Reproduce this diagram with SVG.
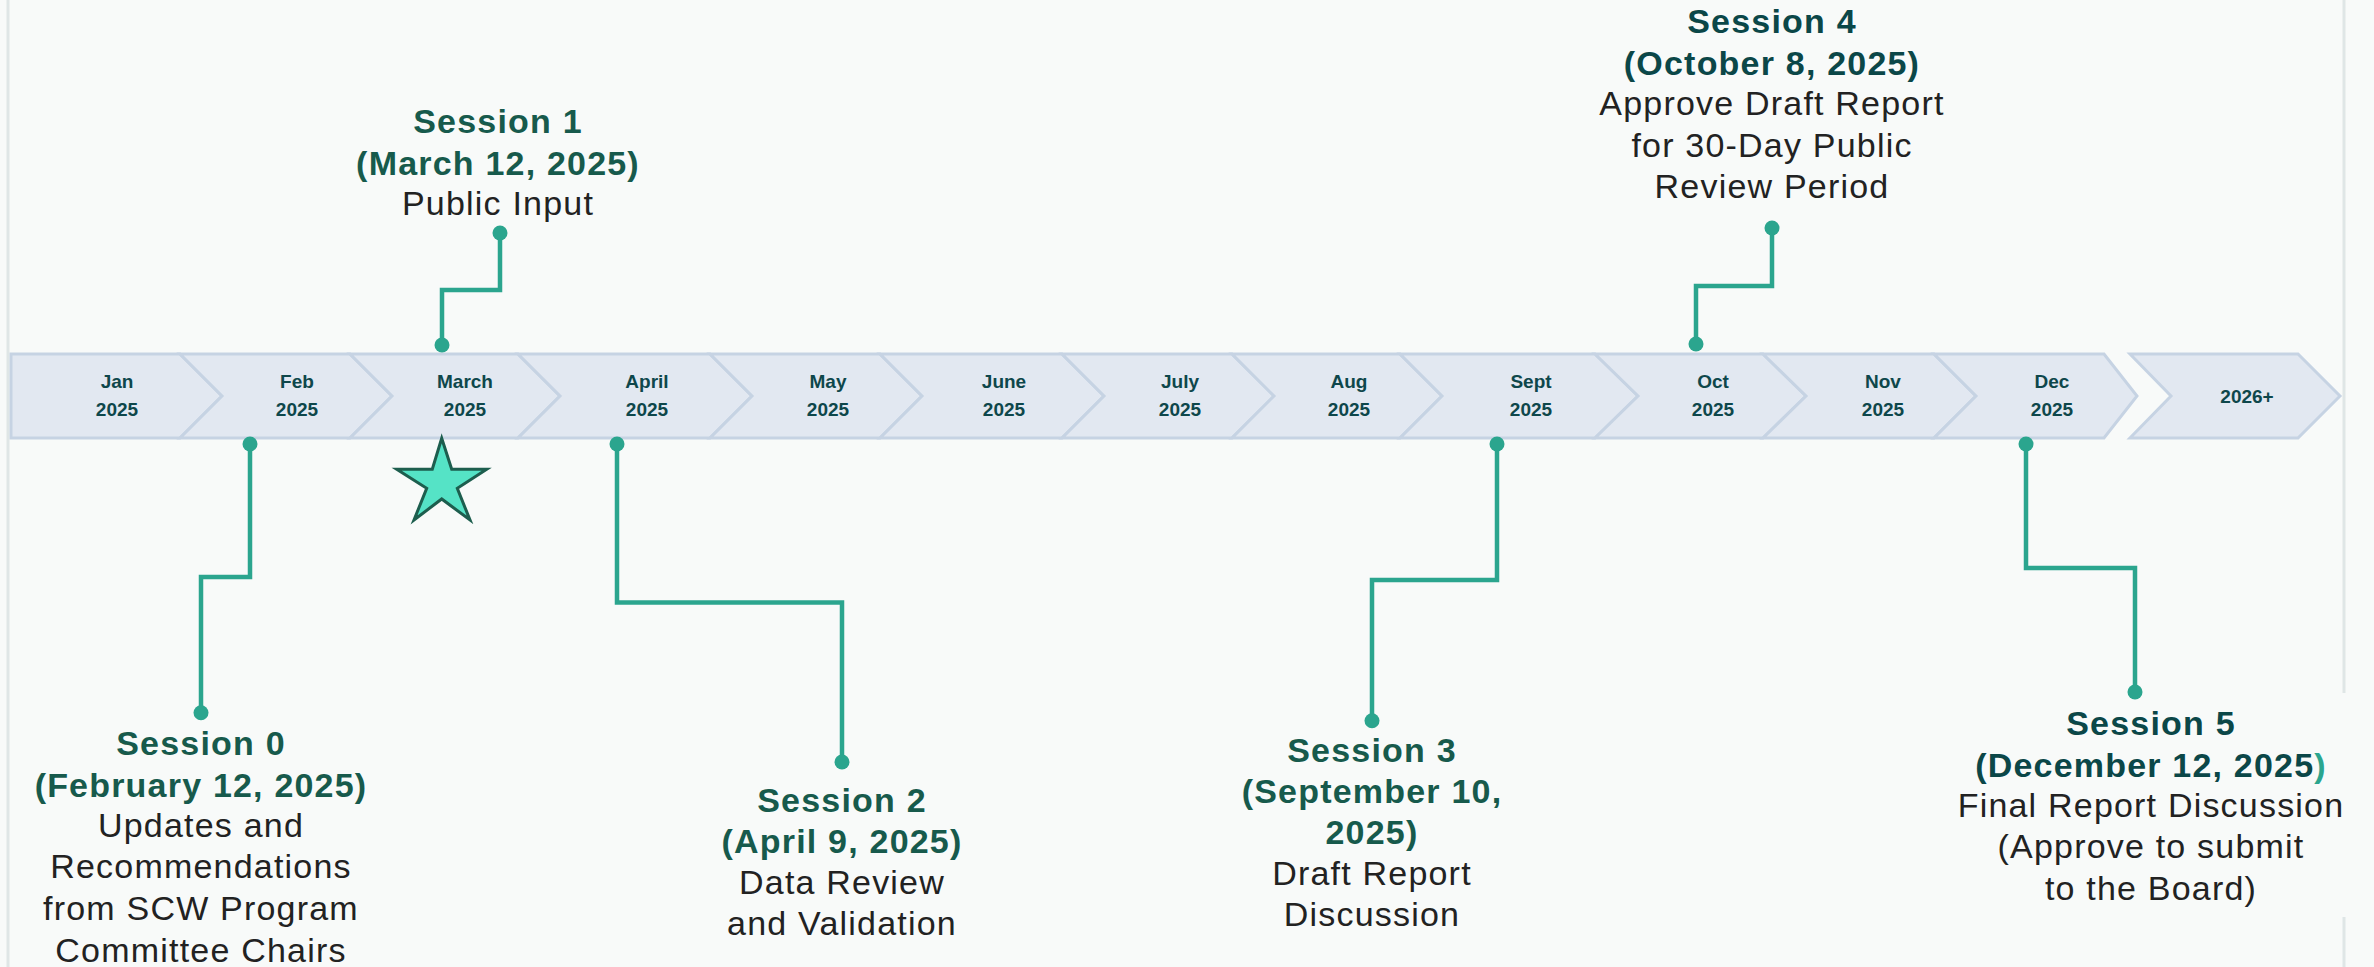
<svg xmlns="http://www.w3.org/2000/svg" width="2374" height="967" viewBox="0 0 2374 967">
<style>
.bg{fill:#f8faf9}
.border{stroke:#dfe6e6;stroke-width:3;fill:none}
.chev{fill:#e2e8f1;stroke:#c6d3e3;stroke-width:3;stroke-linejoin:miter}
.mon{font-family:"Liberation Sans",Arial,sans-serif;font-weight:bold;font-size:19px;fill:#0e474b;text-anchor:middle}
.conn{fill:none;stroke:#2ba58e;stroke-width:4.5}
.dot{fill:#2ba58e}
.t{font-family:"Liberation Sans",Arial,sans-serif;font-size:34px;text-anchor:middle;letter-spacing:1.2px}
.h{font-weight:bold;fill:#175a4c}
.h2{font-weight:bold;fill:#0b4748}
.d{fill:#222222}
.star{fill:#55e3c6;stroke:#1d5e4e;stroke-width:3;stroke-linejoin:miter}
</style>
<rect class="bg" x="0" y="0" width="2374" height="967"/>
<line class="border" x1="8" y1="0" x2="8" y2="967"/>
<line class="border" x1="2344" y1="0" x2="2344" y2="693"/>
<line class="border" x1="2344" y1="917" x2="2344" y2="967"/>

<g id="timeline">
<polygon class="chev" points="11,354 180,354 222,396 180,438 11,438"/>
<polygon class="chev" points="180,354 350,354 392,396 350,438 180,438 222,396"/>
<polygon class="chev" points="350,354 518,354 560,396 518,438 350,438 392,396"/>
<polygon class="chev" points="518,354 710,354 752,396 710,438 518,438 560,396"/>
<polygon class="chev" points="710,354 880,354 922,396 880,438 710,438 752,396"/>
<polygon class="chev" points="880,354 1062,354 1104,396 1062,438 880,438 922,396"/>
<polygon class="chev" points="1062,354 1232,354 1274,396 1232,438 1062,438 1104,396"/>
<polygon class="chev" points="1232,354 1400,354 1442,396 1400,438 1232,438 1274,396"/>
<polygon class="chev" points="1400,354 1595,354 1638,396 1595,438 1400,438 1442,396"/>
<polygon class="chev" points="1595,354 1763,354 1806,396 1763,438 1595,438 1638,396"/>
<polygon class="chev" points="1763,354 1934,354 1976,396 1934,438 1763,438 1806,396"/>
<polygon class="chev" points="1934,354 2104,354 2137,396 2104,438 1934,438 1976,396"/>
<polygon class="chev" points="2130,354 2298,354 2340,396 2298,438 2130,438 2171,396"/>
<text class="mon" x="117" y="388">Jan</text><text class="mon" x="117" y="416">2025</text>
<text class="mon" x="297" y="388">Feb</text><text class="mon" x="297" y="416">2025</text>
<text class="mon" x="465" y="388">March</text><text class="mon" x="465" y="416">2025</text>
<text class="mon" x="647" y="388">April</text><text class="mon" x="647" y="416">2025</text>
<text class="mon" x="828" y="388">May</text><text class="mon" x="828" y="416">2025</text>
<text class="mon" x="1004" y="388">June</text><text class="mon" x="1004" y="416">2025</text>
<text class="mon" x="1180" y="388">July</text><text class="mon" x="1180" y="416">2025</text>
<text class="mon" x="1349" y="388">Aug</text><text class="mon" x="1349" y="416">2025</text>
<text class="mon" x="1531" y="388">Sept</text><text class="mon" x="1531" y="416">2025</text>
<text class="mon" x="1713" y="388">Oct</text><text class="mon" x="1713" y="416">2025</text>
<text class="mon" x="1883" y="388">Nov</text><text class="mon" x="1883" y="416">2025</text>
<text class="mon" x="2052" y="388">Dec</text><text class="mon" x="2052" y="416">2025</text>
<text class="mon" x="2247" y="403">2026+</text>
</g>

<g id="star">
<polygon class="star" points="441.7,438.3 451.7,469.3 486.7,469.3 457.3,488.3 470,520 441.7,499 414,520 426.7,488.3 396.7,469.3 432.3,469.3"/>
</g>

<g id="connectors">
<path class="conn" d="M250,444 V577 H201 V712.7"/>
<circle class="dot" cx="250" cy="444" r="7.5"/><circle class="dot" cx="201" cy="712.7" r="7.5"/>
<path class="conn" d="M500,233 V290 H442 V345"/>
<circle class="dot" cx="500" cy="233" r="7.5"/><circle class="dot" cx="442" cy="345" r="7.5"/>
<path class="conn" d="M617,444 V602.6 H842 V762"/>
<circle class="dot" cx="617" cy="444" r="7.5"/><circle class="dot" cx="842" cy="762" r="7.5"/>
<path class="conn" d="M1497,444 V580 H1372 V720.7"/>
<circle class="dot" cx="1497" cy="444" r="7.5"/><circle class="dot" cx="1372" cy="720.7" r="7.5"/>
<path class="conn" d="M1772,228 V286 H1696 V344"/>
<circle class="dot" cx="1772" cy="228" r="7.5"/><circle class="dot" cx="1696" cy="344" r="7.5"/>
<path class="conn" d="M2026,444 V568 H2135 V692"/>
<circle class="dot" cx="2026" cy="444" r="7.5"/><circle class="dot" cx="2135" cy="692" r="7.5"/>
</g>

<g id="session0">
<text class="t h" x="201" y="755">Session 0</text>
<text class="t h" x="201" y="797">(February 12, 2025)</text>
<text class="t d" x="201" y="837">Updates and</text>
<text class="t d" x="201" y="878">Recommendations</text>
<text class="t d" x="201" y="920">from SCW Program</text>
<text class="t d" x="201" y="962">Committee Chairs</text>
</g>

<g id="session1">
<text class="t h" x="498" y="133">Session 1</text>
<text class="t h" x="498" y="175">(March 12, 2025)</text>
<text class="t d" x="498" y="215">Public Input</text>
</g>

<g id="session2">
<text class="t h" x="842" y="812">Session 2</text>
<text class="t h" x="842" y="853">(April 9, 2025)</text>
<text class="t d" x="842" y="894">Data Review</text>
<text class="t d" x="842" y="935">and Validation</text>
</g>

<g id="session3">
<text class="t h" x="1372" y="762">Session 3</text>
<text class="t h" x="1372" y="803">(September 10,</text>
<text class="t h" x="1372" y="844">2025)</text>
<text class="t d" x="1372" y="885">Draft Report</text>
<text class="t d" x="1372" y="926">Discussion</text>
</g>

<g id="session4">
<text class="t h2" x="1772" y="33">Session 4</text>
<text class="t h2" x="1772" y="75">(October 8, 2025)</text>
<text class="t d" x="1772" y="115">Approve Draft Report</text>
<text class="t d" x="1772" y="157">for 30-Day Public</text>
<text class="t d" x="1772" y="198">Review Period</text>
</g>

<g id="session5">
<text class="t h2" x="2151" y="735">Session 5</text>
<text class="t h2" x="2151" y="777">(December 12, 2025<tspan fill="#2ba58e">)</tspan></text>
<text class="t d" x="2151" y="817">Final Report Discussion</text>
<text class="t d" x="2151" y="858">(Approve to submit</text>
<text class="t d" x="2151" y="900">to the Board)</text>
</g>
</svg>
